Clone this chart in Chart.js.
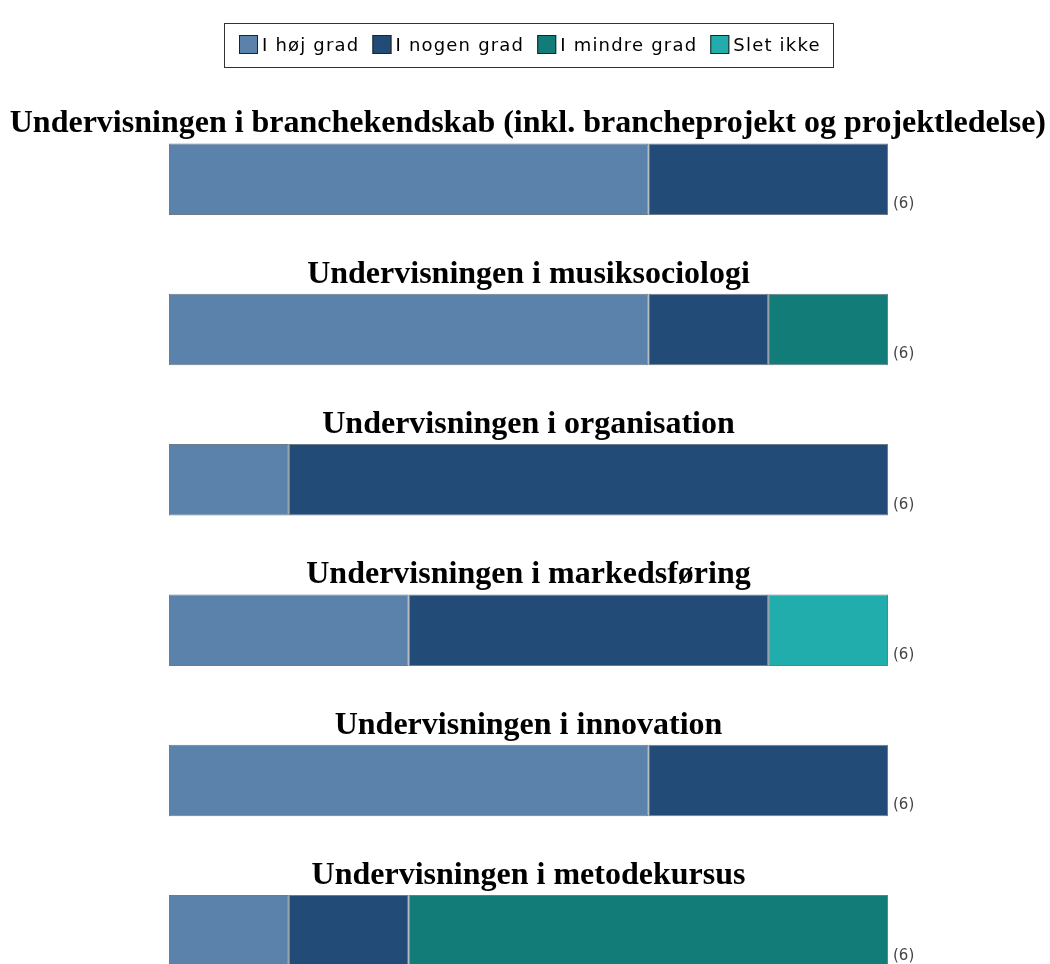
<!DOCTYPE html>
<html>
<head>
<meta charset="utf-8">
<script src="https://cdn.jsdelivr.net/npm/chart.js@4"></script>
<style>
html,body{margin:0;padding:0;background:#fff;overflow:hidden;}
#wrap{position:absolute;left:0;top:0;width:1050px;height:1010px;}
</style>
</head>
<body>
<div id="wrap"><canvas id="c"></canvas></div>
<script>
const categories = [
  'Undervisningen i branchekendskab (inkl. brancheprojekt og projektledelse)',
  'Undervisningen i musiksociologi',
  'Undervisningen i organisation',
  'Undervisningen i markedsføring',
  'Undervisningen i innovation',
  'Undervisningen i metodekursus'
];
const seriesNames = ['I høj grad', 'I nogen grad', 'I mindre grad', 'Slet ikke'];
const seriesColors = ['#5a82ab', '#224c77', '#127c79', '#22adad'];
const hojGrad    = [4, 4, 1, 2, 4, 1];
const nogenGrad  = [2, 1, 5, 3, 2, 1];
const mindreGrad = [0, 1, 0, 0, 0, 4];
const sletIkke   = [0, 0, 0, 1, 0, 0];
const seriesValues = [hojGrad, nogenGrad, mindreGrad, sletIkke];
const totals = categories.map((_, i) => seriesValues.reduce((s, arr) => s + arr[i], 0));

const decor = {
  id: 'decor',
  afterDraw(chart) {
    const ctx = chart.ctx;
    const ys = chart.scales.y;
    const area = chart.chartArea;
    // legend
    ctx.save();
    ctx.font = '18px "DejaVu Sans"';
    ctx.letterSpacing = '1.2px';
    ctx.textBaseline = 'middle';
    ctx.textAlign = 'left';
    let x = 239;
    const ly = 44;
    ctx.strokeStyle = '#333';
    ctx.lineWidth = 1;
    ctx.strokeRect(224.5, 23.5, 609, 44);
    seriesNames.forEach((n, k) => {
      const w = ctx.measureText(n).width;
      ctx.fillStyle = seriesColors[k];
      ctx.fillRect(x, ly - 9, 19, 19);
      ctx.strokeStyle = '#222';
      ctx.strokeRect(x + 0.5, ly - 8.5, 18, 18);
      ctx.fillStyle = '#000';
      ctx.fillText(n, x + 23, ly + 2);
      x += 19 + 4 + w + 13;
    });
    ctx.restore();

    // titles and n labels
    const meta = chart.getDatasetMeta(0);
    ctx.save();
    categories.forEach((cat, i) => {
      const cy = ys.getPixelForValue(i);
      const h = meta.data[i].height;
      ctx.font = 'bold 32px "Liberation Serif"';
      ctx.fillStyle = '#000';
      ctx.textBaseline = 'alphabetic';
      ctx.textAlign = 'left';
      const w = ctx.measureText(cat).width;
      let left = (area.left + area.right) / 2 - w / 2;
      if (left + w > 1046) left = 1046 - w;
      if (left < 2) left = 2;
      ctx.fillText(cat, left, cy - h / 2 - 11);
      ctx.font = '15px "DejaVu Sans"';
      ctx.fillStyle = '#444';
      ctx.textBaseline = 'middle';
      ctx.fillText('(' + totals[i] + ')', area.right + 5, cy + h / 2 - 11);
    });
    ctx.restore();
  }
};

new Chart(document.getElementById('c'), {
  type: 'bar',
  data: {
    labels: categories,
    datasets: seriesNames.map((n, k) => ({
      label: n,
      data: seriesValues[k],
      backgroundColor: seriesColors[k],
      borderColor: '#6f7b87',
      borderWidth: 1,
      borderSkipped: false,
      categoryPercentage: 1,
      barPercentage: 0.476
    }))
  },
  options: {
    indexAxis: 'y',
    responsive: true,
    maintainAspectRatio: false,
    animation: false,
    layout: { padding: { left: 169, right: 162, top: 104, bottom: 4 } },
    plugins: { legend: { display: false }, tooltip: { enabled: false } },
    scales: {
      x: { stacked: true, min: 0, max: 6, display: false },
      y: { stacked: true, display: false }
    }
  },
  plugins: [decor]
});
</script>
</body>
</html>
